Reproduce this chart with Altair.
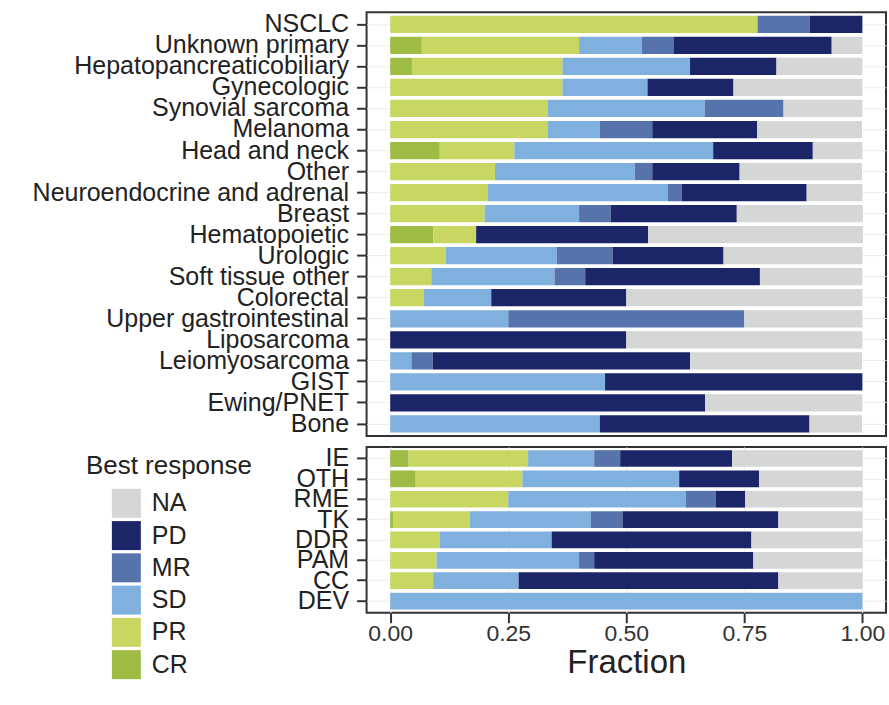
import altair as alt
import pandas as pd

FONT = "Liberation Sans"

responses = ["CR", "PR", "SD", "MR", "PD", "NA"]
legend_order = ["NA", "PD", "MR", "SD", "PR", "CR"]
colors = ["#d4d7d6", "#1b2568", "#5674ab", "#80b1de", "#c7d762", "#9ebb44"]

# ---- top panel (tumour types) ----
top_cats = ["NSCLC", "Unknown primary", "Hepatopancreaticobiliary", "Gynecologic",
            "Synovial sarcoma", "Melanoma", "Head and neck", "Other",
            "Neuroendocrine and adrenal", "Breast", "Hematopoietic", "Urologic",
            "Soft tissue other", "Colorectal", "Upper gastrointestinal",
            "Liposarcoma", "Leiomyosarcoma", "GIST", "Ewing/PNET", "Bone"]
top_CR = [0, 0.067, 0.046, 0, 0, 0, 0.105, 0, 0, 0, 0.091, 0, 0, 0, 0, 0, 0, 0, 0, 0]
top_PR = [0.778, 0.333, 0.319, 0.365, 0.333, 0.333, 0.158, 0.222, 0.206, 0.2, 0.091,
          0.118, 0.087, 0.071, 0, 0, 0, 0, 0, 0]
top_SD = [0, 0.133, 0.27, 0.18, 0.333, 0.111, 0.421, 0.296, 0.382, 0.2, 0, 0.235,
          0.261, 0.143, 0.25, 0, 0.045, 0.455, 0, 0.444]
top_MR = [0.111, 0.067, 0, 0, 0.167, 0.111, 0, 0.037, 0.029, 0.067, 0, 0.118,
          0.065, 0, 0.5, 0, 0.045, 0, 0, 0]
top_PD = [0.111, 0.335, 0.183, 0.182, 0, 0.222, 0.211, 0.185, 0.265, 0.267, 0.364,
          0.235, 0.37, 0.286, 0, 0.5, 0.545, 0.545, 0.667, 0.444]
top_NA = [0, 0.065, 0.182, 0.273, 0.167, 0.222, 0.105, 0.259, 0.118, 0.267, 0.455,
          0.294, 0.217, 0.5, 0.25, 0.5, 0.364, 0, 0.333, 0.111]

# ---- bottom panel (pathways) ----
bot_cats = ["IE", "OTH", "RME", "TK", "DDR", "PAM", "CC", "DEV"]
bot_CR = [0.039, 0.054, 0, 0.006, 0, 0, 0, 0]
bot_PR = [0.253, 0.226, 0.25, 0.162, 0.105, 0.098, 0.091, 0]
bot_SD = [0.14, 0.332, 0.376, 0.257, 0.237, 0.302, 0.181, 1.0]
bot_MR = [0.055, 0, 0.064, 0.067, 0, 0.032, 0, 0]
bot_PD = [0.237, 0.169, 0.062, 0.33, 0.423, 0.337, 0.55, 0]
bot_NA = [0.276, 0.219, 0.248, 0.178, 0.235, 0.231, 0.178, 0]


def long(cats, series):
    rows = []
    for i, c in enumerate(cats):
        for k, r in enumerate(responses):
            rows.append({"cat": c, "resp": r, "rank": k, "frac": series[r][i]})
    return pd.DataFrame(rows)


top_df = long(top_cats, dict(CR=top_CR, PR=top_PR, SD=top_SD, MR=top_MR, PD=top_PD, NA=top_NA))
bot_df = long(bot_cats, dict(CR=bot_CR, PR=bot_PR, SD=bot_SD, MR=bot_MR, PD=bot_PD, NA=bot_NA))

xscale = alt.Scale(domain=[-0.05, 1.05], nice=False, zero=False)
yaxis = alt.Axis(title=None, labelFontSize=25, labelColor="#222", labelFont=FONT,
                 tickColor="#333", tickWidth=2, tickSize=10, labelPadding=8,
                 domain=False, grid=True, gridColor="#ececec", bandPosition=0.5,
                 labelLimit=0)
band = dict(paddingInner=0.18, paddingOuter=0.16)

top = alt.Chart(top_df).mark_bar().encode(
    x=alt.X("frac:Q", stack="zero", scale=xscale, axis=None),
    y=alt.Y("cat:N", sort=top_cats, axis=yaxis, scale=alt.Scale(**band)),
    color=alt.Color("resp:N", scale=alt.Scale(domain=legend_order, range=colors), legend=None),
    order=alt.Order("rank:Q"),
).properties(width=520, height=424)

bottom = alt.Chart(bot_df).mark_bar().encode(
    x=alt.X("frac:Q", stack="zero", scale=xscale,
            axis=alt.Axis(title="Fraction", values=[0, 0.25, 0.5, 0.75, 1.0], format=".2f",
                          labelFontSize=23, labelColor="#333", labelFont=FONT,
                          titleFontSize=33, titleFontWeight="normal", titleColor="#222",
                          titleFont=FONT, titlePadding=1,
                          tickColor="#333", tickWidth=2, tickSize=10, labelPadding=0,
                          domain=False, grid=True, gridColor="#ececec")),
    y=alt.Y("cat:N", sort=bot_cats, axis=yaxis, scale=alt.Scale(**band)),
    color=alt.Color("resp:N", scale=alt.Scale(domain=legend_order, range=colors),
                    legend=alt.Legend(title="Best response", orient="none",
                                      legendX=-281, legendY=6, padding=0,
                                      symbolType="square", symbolSize=841,
                                      symbolStrokeWidth=0, symbolOpacity=1,
                                      symbolOffset=26,
                                      labelFontSize=25, labelFont=FONT, labelColor="#222",
                                      labelOffset=11, rowPadding=3.3,
                                      titleFontSize=26, titleFont=FONT, titleColor="#222",
                                      titleFontWeight="normal", titlePadding=10)),
    order=alt.Order("rank:Q"),
).properties(width=520, height=166)

chart = alt.vconcat(top, bottom, spacing=7).resolve_scale(color="independent").properties(
    padding={"left": 31, "top": 10, "right": 2, "bottom": 5}
).configure(font=FONT, background="white").configure_view(stroke="#333", strokeWidth=2)

chart.save("out.html", embed_options={"renderer": "svg", "actions": False})
